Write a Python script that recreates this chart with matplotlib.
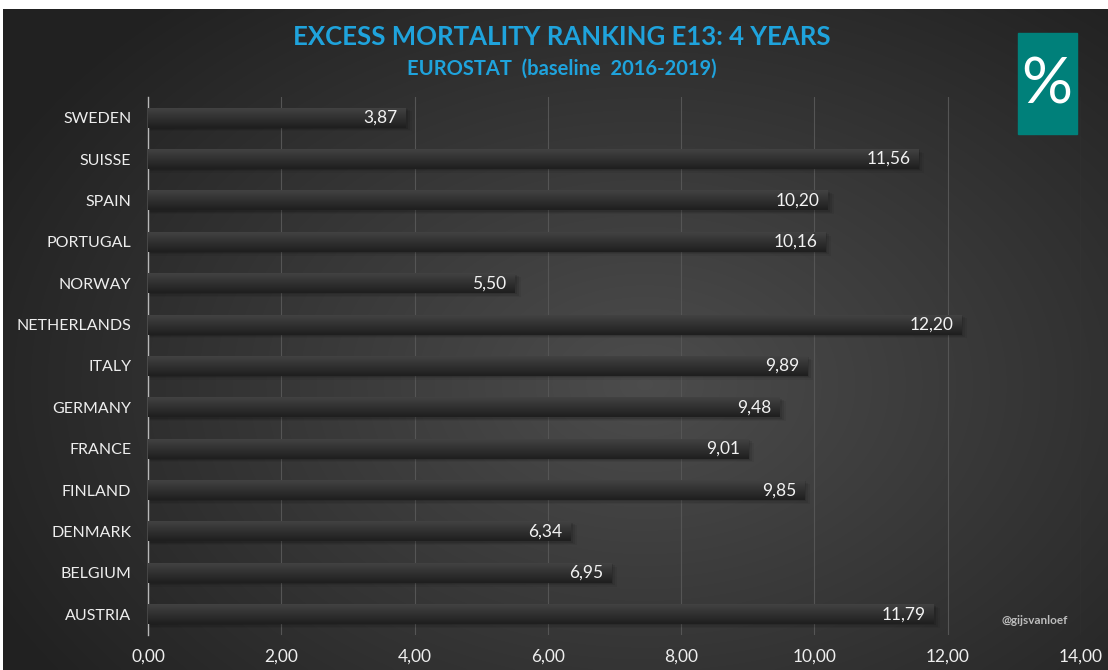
import matplotlib
matplotlib.use("Agg")
import matplotlib.pyplot as plt
import numpy as np
from matplotlib.patches import Rectangle

countries = ["SWEDEN", "SUISSE", "SPAIN", "PORTUGAL", "NORWAY", "NETHERLANDS", "ITALY",
             "GERMANY", "FRANCE", "FINLAND", "DENMARK", "BELGIUM", "AUSTRIA"]
excess = [3.87, 11.56, 10.20, 10.16, 5.50, 12.20, 9.89, 9.48, 9.01, 9.85, 6.34, 6.95, 11.79]
xticks = [0, 2, 4, 6, 8, 10, 12, 14]

W, H = 1108, 670
plt.rcParams["font.family"] = ["Lato", "DejaVu Sans"]

fig = plt.figure(figsize=(W / 100, H / 100), dpi=100, facecolor="white")

# background with radial gradient
bg = fig.add_axes([3 / W, 0, 1 - 3 / W, 1 - 9 / H])
bg.set_axis_off()
yy, xx = np.mgrid[0:300, 0:500]
r = np.sqrt(((xx - 290) / 330) ** 2 + ((yy - 170) / 230) ** 2)
shade = np.clip(0.30 - 0.17 * r, 0.13, 0.30)
bg.imshow(np.dstack([shade] * 3), aspect="auto", extent=(0, 1, 0, 1), interpolation="bicubic")
bg.set_xlim(0, 1); bg.set_ylim(0, 1)

ax = fig.add_axes([148 / W, 1 - 635 / H, (1081 - 148) / W, (635 - 97) / H])
ax.patch.set_alpha(0)
n = len(countries)
ypos = np.arange(n)[::-1]
h = 0.48
grad = np.dstack([np.linspace(0.26, 0.12, 50)[:, None]] * 3)
for y, v in zip(ypos, excess):
    # soft shadow
    for k, a in enumerate([0.10, 0.08, 0.06]):
        off = 0.03 * (k + 1)
        ax.add_patch(Rectangle((0, y - h / 2 - off), v + off, h, color="black", alpha=a, lw=0, zorder=2))
    ax.imshow(grad, aspect="auto", extent=(0, v, y - h / 2, y + h / 2), interpolation="bicubic", zorder=3)
    ax.text(v - 0.12, y, f"{v:.2f}".replace(".", ","), ha="right", va="center",
            color="#f2f2f2", fontsize=12.5, zorder=4)

ax.set_xlim(0, 14)
ax.set_ylim(-0.5, n - 0.5)
ax.set_xticks(xticks)
ax.set_xticklabels([f"{t:.2f}".replace(".", ",") for t in xticks], color="#eeeeee", fontsize=12.5)
ax.set_yticks(ypos)
ax.set_yticklabels(countries, color="#eeeeee", fontsize=11.5)
ax.tick_params(length=0)
ax.tick_params(axis="x", pad=10)
ax.tick_params(axis="y", pad=12)
ax.grid(axis="x", color="#555555", lw=0.8, zorder=0)
ax.set_axisbelow(True)
for s in ["top", "right", "bottom"]:
    ax.spines[s].set_visible(False)
ax.spines["left"].set_color("#b8b8b8")
ax.spines["left"].set_linewidth(1)

fig.text(562 / W, 1 - 37 / H, "EXCESS MORTALITY RANKING E13: 4 YEARS", ha="center", va="center",
         color="#1fa3dc", fontsize=18.5, fontweight="bold")
fig.text(562 / W, 1 - 69 / H, "EUROSTAT  (baseline  2016-2019)", ha="center", va="center",
         color="#1fa3dc", fontsize=14.5, fontweight="bold")

# percent badge
fig.patches.append(Rectangle((1018 / W, 1 - 134 / H), 59 / W, 101 / H, transform=fig.transFigure,
                             color="#00807a", zorder=5))
fig.text(1047 / W, 1 - 86 / H, "%", ha="center", va="center", color="white", fontsize=46, zorder=6)

fig.text(1035 / W, 1 - 620 / H, "@gijsvanloef", ha="center", va="center", color="#bdbdbd",
         fontsize=8.5, fontweight="bold")

fig.savefig("out.png", dpi=100, facecolor=fig.get_facecolor())
